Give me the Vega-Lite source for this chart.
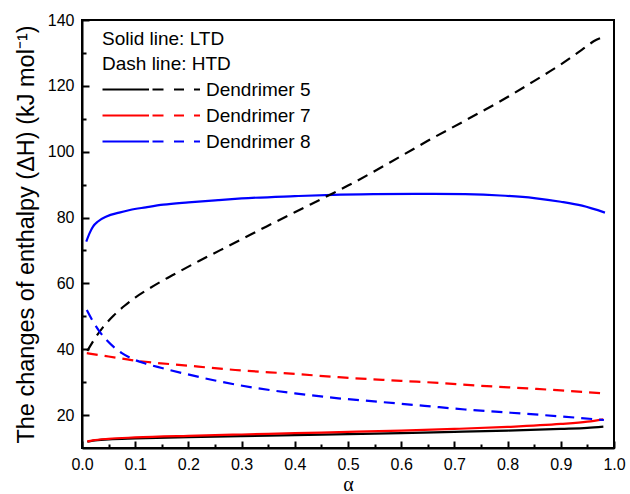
{
  "$schema": "https://vega.github.io/schema/vega-lite/v6.json",
  "width": 532,
  "height": 428,
  "autosize": {"type": "none"},
  "padding": {"left": 82, "top": 20, "right": 16, "bottom": 46},
  "background": "white",
  "data": {
    "values": [
      {"a": 0.01, "v": 11.9, "d": "Dendrimer 5", "t": "LTD"},
      {"a": 0.02, "v": 12.2, "d": "Dendrimer 5", "t": "LTD"},
      {"a": 0.05, "v": 12.6, "d": "Dendrimer 5", "t": "LTD"},
      {"a": 0.1, "v": 12.9, "d": "Dendrimer 5", "t": "LTD"},
      {"a": 0.2, "v": 13.3, "d": "Dendrimer 5", "t": "LTD"},
      {"a": 0.3, "v": 13.6, "d": "Dendrimer 5", "t": "LTD"},
      {"a": 0.4, "v": 13.9, "d": "Dendrimer 5", "t": "LTD"},
      {"a": 0.5, "v": 14.2, "d": "Dendrimer 5", "t": "LTD"},
      {"a": 0.6, "v": 14.5, "d": "Dendrimer 5", "t": "LTD"},
      {"a": 0.7, "v": 14.9, "d": "Dendrimer 5", "t": "LTD"},
      {"a": 0.8, "v": 15.3, "d": "Dendrimer 5", "t": "LTD"},
      {"a": 0.9, "v": 15.8, "d": "Dendrimer 5", "t": "LTD"},
      {"a": 0.95, "v": 16.1, "d": "Dendrimer 5", "t": "LTD"},
      {"a": 0.98, "v": 16.5, "d": "Dendrimer 5", "t": "LTD"},
      {"a": 0.01, "v": 12.0, "d": "Dendrimer 7", "t": "LTD"},
      {"a": 0.02, "v": 12.3, "d": "Dendrimer 7", "t": "LTD"},
      {"a": 0.05, "v": 12.8, "d": "Dendrimer 7", "t": "LTD"},
      {"a": 0.1, "v": 13.2, "d": "Dendrimer 7", "t": "LTD"},
      {"a": 0.2, "v": 13.7, "d": "Dendrimer 7", "t": "LTD"},
      {"a": 0.3, "v": 14.1, "d": "Dendrimer 7", "t": "LTD"},
      {"a": 0.4, "v": 14.5, "d": "Dendrimer 7", "t": "LTD"},
      {"a": 0.5, "v": 14.9, "d": "Dendrimer 7", "t": "LTD"},
      {"a": 0.6, "v": 15.3, "d": "Dendrimer 7", "t": "LTD"},
      {"a": 0.7, "v": 15.8, "d": "Dendrimer 7", "t": "LTD"},
      {"a": 0.8, "v": 16.4, "d": "Dendrimer 7", "t": "LTD"},
      {"a": 0.9, "v": 17.3, "d": "Dendrimer 7", "t": "LTD"},
      {"a": 0.95, "v": 18.0, "d": "Dendrimer 7", "t": "LTD"},
      {"a": 0.98, "v": 18.7, "d": "Dendrimer 7", "t": "LTD"},
      {"a": 0.008, "v": 72.7, "d": "Dendrimer 8", "t": "LTD"},
      {"a": 0.015, "v": 75.5, "d": "Dendrimer 8", "t": "LTD"},
      {"a": 0.021, "v": 77.3, "d": "Dendrimer 8", "t": "LTD"},
      {"a": 0.03, "v": 78.8, "d": "Dendrimer 8", "t": "LTD"},
      {"a": 0.046, "v": 80.3, "d": "Dendrimer 8", "t": "LTD"},
      {"a": 0.07, "v": 81.5, "d": "Dendrimer 8", "t": "LTD"},
      {"a": 0.09, "v": 82.3, "d": "Dendrimer 8", "t": "LTD"},
      {"a": 0.12, "v": 83.1, "d": "Dendrimer 8", "t": "LTD"},
      {"a": 0.153, "v": 83.9, "d": "Dendrimer 8", "t": "LTD"},
      {"a": 0.2, "v": 84.6, "d": "Dendrimer 8", "t": "LTD"},
      {"a": 0.256, "v": 85.3, "d": "Dendrimer 8", "t": "LTD"},
      {"a": 0.3, "v": 85.8, "d": "Dendrimer 8", "t": "LTD"},
      {"a": 0.4, "v": 86.5, "d": "Dendrimer 8", "t": "LTD"},
      {"a": 0.472, "v": 86.9, "d": "Dendrimer 8", "t": "LTD"},
      {"a": 0.55, "v": 87.1, "d": "Dendrimer 8", "t": "LTD"},
      {"a": 0.66, "v": 87.2, "d": "Dendrimer 8", "t": "LTD"},
      {"a": 0.72, "v": 87.1, "d": "Dendrimer 8", "t": "LTD"},
      {"a": 0.786, "v": 86.7, "d": "Dendrimer 8", "t": "LTD"},
      {"a": 0.85, "v": 85.9, "d": "Dendrimer 8", "t": "LTD"},
      {"a": 0.9, "v": 84.8, "d": "Dendrimer 8", "t": "LTD"},
      {"a": 0.94, "v": 83.6, "d": "Dendrimer 8", "t": "LTD"},
      {"a": 0.983, "v": 81.5, "d": "Dendrimer 8", "t": "LTD"},
      {"a": 0.01, "v": 39.5, "d": "Dendrimer 5", "t": "HTD"},
      {"a": 0.024, "v": 43.2, "d": "Dendrimer 5", "t": "HTD"},
      {"a": 0.04, "v": 46.8, "d": "Dendrimer 5", "t": "HTD"},
      {"a": 0.06, "v": 50.3, "d": "Dendrimer 5", "t": "HTD"},
      {"a": 0.08, "v": 53.2, "d": "Dendrimer 5", "t": "HTD"},
      {"a": 0.1, "v": 55.7, "d": "Dendrimer 5", "t": "HTD"},
      {"a": 0.125, "v": 58.3, "d": "Dendrimer 5", "t": "HTD"},
      {"a": 0.15, "v": 60.7, "d": "Dendrimer 5", "t": "HTD"},
      {"a": 0.184, "v": 63.7, "d": "Dendrimer 5", "t": "HTD"},
      {"a": 0.22, "v": 66.8, "d": "Dendrimer 5", "t": "HTD"},
      {"a": 0.26, "v": 70.1, "d": "Dendrimer 5", "t": "HTD"},
      {"a": 0.3, "v": 73.4, "d": "Dendrimer 5", "t": "HTD"},
      {"a": 0.347, "v": 77.3, "d": "Dendrimer 5", "t": "HTD"},
      {"a": 0.4, "v": 81.6, "d": "Dendrimer 5", "t": "HTD"},
      {"a": 0.472, "v": 87.4, "d": "Dendrimer 5", "t": "HTD"},
      {"a": 0.5, "v": 89.7, "d": "Dendrimer 5", "t": "HTD"},
      {"a": 0.598, "v": 98.5, "d": "Dendrimer 5", "t": "HTD"},
      {"a": 0.65, "v": 103.3, "d": "Dendrimer 5", "t": "HTD"},
      {"a": 0.723, "v": 109.7, "d": "Dendrimer 5", "t": "HTD"},
      {"a": 0.8, "v": 116.6, "d": "Dendrimer 5", "t": "HTD"},
      {"a": 0.848, "v": 121.3, "d": "Dendrimer 5", "t": "HTD"},
      {"a": 0.9, "v": 126.5, "d": "Dendrimer 5", "t": "HTD"},
      {"a": 0.94, "v": 131.0, "d": "Dendrimer 5", "t": "HTD"},
      {"a": 0.967, "v": 134.0, "d": "Dendrimer 5", "t": "HTD"},
      {"a": 0.98, "v": 134.8, "d": "Dendrimer 5", "t": "HTD"},
      {"a": 0.009, "v": 38.8, "d": "Dendrimer 7", "t": "HTD"},
      {"a": 0.05, "v": 37.8, "d": "Dendrimer 7", "t": "HTD"},
      {"a": 0.093, "v": 36.7, "d": "Dendrimer 7", "t": "HTD"},
      {"a": 0.2, "v": 35.0, "d": "Dendrimer 7", "t": "HTD"},
      {"a": 0.288, "v": 33.7, "d": "Dendrimer 7", "t": "HTD"},
      {"a": 0.4, "v": 32.5, "d": "Dendrimer 7", "t": "HTD"},
      {"a": 0.482, "v": 31.5, "d": "Dendrimer 7", "t": "HTD"},
      {"a": 0.6, "v": 30.4, "d": "Dendrimer 7", "t": "HTD"},
      {"a": 0.677, "v": 29.7, "d": "Dendrimer 7", "t": "HTD"},
      {"a": 0.75, "v": 28.9, "d": "Dendrimer 7", "t": "HTD"},
      {"a": 0.838, "v": 28.1, "d": "Dendrimer 7", "t": "HTD"},
      {"a": 0.9, "v": 27.5, "d": "Dendrimer 7", "t": "HTD"},
      {"a": 0.981, "v": 26.6, "d": "Dendrimer 7", "t": "HTD"},
      {"a": 0.009, "v": 51.9, "d": "Dendrimer 8", "t": "HTD"},
      {"a": 0.02, "v": 48.6, "d": "Dendrimer 8", "t": "HTD"},
      {"a": 0.032, "v": 45.6, "d": "Dendrimer 8", "t": "HTD"},
      {"a": 0.045, "v": 43.0, "d": "Dendrimer 8", "t": "HTD"},
      {"a": 0.061, "v": 40.5, "d": "Dendrimer 8", "t": "HTD"},
      {"a": 0.075, "v": 38.8, "d": "Dendrimer 8", "t": "HTD"},
      {"a": 0.093, "v": 37.2, "d": "Dendrimer 8", "t": "HTD"},
      {"a": 0.12, "v": 35.6, "d": "Dendrimer 8", "t": "HTD"},
      {"a": 0.15, "v": 34.3, "d": "Dendrimer 8", "t": "HTD"},
      {"a": 0.19, "v": 32.7, "d": "Dendrimer 8", "t": "HTD"},
      {"a": 0.25, "v": 30.5, "d": "Dendrimer 8", "t": "HTD"},
      {"a": 0.32, "v": 28.4, "d": "Dendrimer 8", "t": "HTD"},
      {"a": 0.4, "v": 26.6, "d": "Dendrimer 8", "t": "HTD"},
      {"a": 0.482, "v": 25.1, "d": "Dendrimer 8", "t": "HTD"},
      {"a": 0.56, "v": 24.0, "d": "Dendrimer 8", "t": "HTD"},
      {"a": 0.644, "v": 22.8, "d": "Dendrimer 8", "t": "HTD"},
      {"a": 0.72, "v": 21.7, "d": "Dendrimer 8", "t": "HTD"},
      {"a": 0.806, "v": 20.7, "d": "Dendrimer 8", "t": "HTD"},
      {"a": 0.9, "v": 19.6, "d": "Dendrimer 8", "t": "HTD"},
      {"a": 0.981, "v": 18.5, "d": "Dendrimer 8", "t": "HTD"}
    ]
  },
  "layer": [
    {
      "transform": [{"filter": "datum.t === 'LTD'"}],
      "mark": {"type": "line", "strokeWidth": 2.2, "interpolate": "monotone", "clip": true},
      "encoding": {
        "x": {
          "field": "a", "type": "quantitative",
          "scale": {"domain": [0, 1], "nice": false, "zero": false},
          "axis": {
            "orient": "bottom",
            "values": [0, 0.1, 0.2, 0.3, 0.4, 0.5, 0.6, 0.7, 0.8, 0.9, 1.0],
            "format": ".1f",
            "tickSize": -7,
            "labelPadding": 15,
            "labelFlush": false,
            "title": "α",
            "titleFont": "Liberation Serif",
            "titleFontSize": 20,
            "titleBaseline": "top",
            "titleY": 26
          }
        },
        "y": {
          "field": "v", "type": "quantitative",
          "scale": {"domain": [10, 140], "nice": false, "zero": false},
          "axis": {
            "orient": "left",
            "values": [20, 40, 60, 80, 100, 120, 140],
            "tickSize": -7,
            "labelPadding": 15,
            "title": "The changes of enthalpy (ΔH) (kJ mol⁻¹)",
            "titleFontSize": 23.5,
            "titlePadding": 9
          }
        },
        "color": {
          "field": "d", "type": "nominal",
          "scale": {"domain": ["Dendrimer 5", "Dendrimer 7", "Dendrimer 8"], "range": ["#000000", "#ff0000", "#0000ff"]},
          "legend": {
            "orient": "none",
            "legendX": 20,
            "legendY": 10,
            "padding": 0,
            "title": ["Solid line: LTD", "Dash line: HTD"],
            "titleFont": "Liberation Sans",
            "titleFontSize": 19,
            "titleFontWeight": "normal",
            "titleColor": "black",
            "titleLineHeight": 25,
            "titlePadding": 6,
            "labelFont": "Liberation Sans",
            "labelFontSize": 19,
            "labelColor": "black",
            "labelOffset": 85,
            "symbolType": "M-1.8,0H7.5M8.2,0H10.4M12.5,0H14.5M16.5,0H17.7",
            "symbolSize": 100,
            "symbolStrokeWidth": 2.2,
            "symbolDash": [1, 0],
            "rowPadding": 6
          }
        }
      }
    },
    {
      "transform": [{"filter": "datum.t === 'HTD'"}],
      "mark": {"type": "line", "strokeWidth": 2.2, "interpolate": "monotone", "strokeDash": [11, 7], "clip": true},
      "encoding": {
        "x": {
          "field": "a", "type": "quantitative",
          "axis": {
            "orient": "bottom",
            "values": [0.05, 0.15, 0.25, 0.35, 0.45, 0.55, 0.65, 0.75, 0.85, 0.95],
            "tickSize": -4,
            "labels": false,
            "domain": false,
            "title": null
          }
        },
        "y": {
          "field": "v", "type": "quantitative",
          "axis": {
            "orient": "left",
            "values": [30, 50, 70, 90, 110, 130],
            "tickSize": -4,
            "labels": false,
            "domain": false,
            "title": null
          }
        },
        "color": {"field": "d", "type": "nominal"}
      }
    }
  ],
  "resolve": {"axis": {"x": "independent", "y": "independent"}},
  "config": {
    "view": {"stroke": "black", "strokeWidth": 2},
    "axis": {
      "grid": false,
      "domainColor": "black",
      "domainWidth": 2,
      "tickColor": "black",
      "tickWidth": 2,
      "labelFont": "Liberation Sans",
      "labelFontSize": 16,
      "labelColor": "black",
      "titleFont": "Liberation Sans",
      "titleFontWeight": "normal",
      "titleColor": "black"
    },
    "legend": {"symbolFillColor": "transparent"}
  }
}
